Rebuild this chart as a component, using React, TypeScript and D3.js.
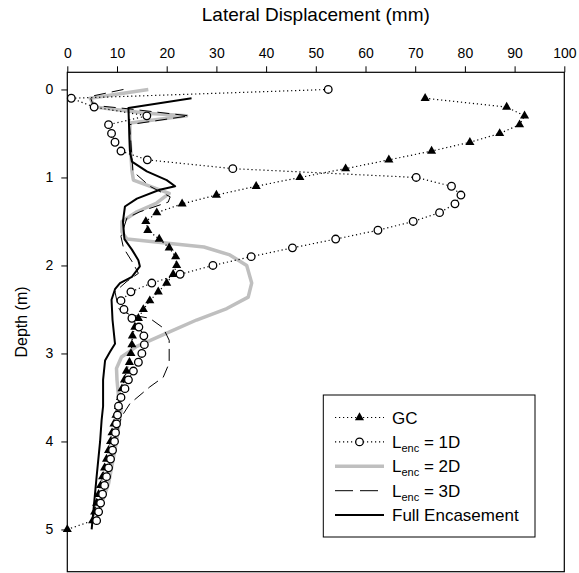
import React, { useEffect, useRef } from 'react';
import * as d3 from 'd3';

const WIDTH = 579;
const HEIGHT = 573;
const FONT = '"Liberation Sans", Arial, sans-serif';

// Axis ticks
const xTicks = [0, 10, 20, 30, 40, 50, 60, 70, 80, 90, 100];
const yTicks = [0, 1, 2, 3, 4, 5];

// Geocell column without encasement (GC)
const gcDepth = [0.1, 0.2, 0.3, 0.4, 0.5, 0.6, 0.7, 0.8, 0.9, 1.0, 1.1, 1.2, 1.3, 1.4, 1.5, 1.6, 1.7, 1.8, 1.9, 2.0,
  2.1, 2.2, 2.3, 2.4, 2.5, 2.6, 2.7, 2.8, 2.9, 3.0, 3.1, 3.2, 3.3, 3.4, 3.5, 3.6, 3.7, 3.8, 3.9, 4.0,
  4.1, 4.2, 4.3, 4.4, 4.5, 4.6, 4.7, 4.8, 4.9, 5.0];
const gcDisp = [72, 88.4, 92, 91, 87, 81, 73.3, 64.7, 56, 46.8, 38, 30, 23.1, 18, 15.8, 16.2, 18.5, 20.5, 21.8, 22,
  21.3, 20, 18.3, 16.6, 15.3, 14.3, 13.6, 13.1, 13.0, 12.8, 12.5, 11.9, 11.5, 11.0, 10.7, 10.3, 9.8, 9.4, 9.0, 8.7,
  8.3, 7.9, 7.5, 7.1, 6.7, 6.3, 5.9, 5.5, 5.1, 0];

// Encasement length 1D
const enc1Depth = [0.0, 0.1, 0.2, 0.3, 0.4, 0.5, 0.6, 0.7, 0.8, 0.9, 1.0, 1.1, 1.2, 1.3, 1.4, 1.5, 1.6, 1.7, 1.8, 1.9,
  2.0, 2.1, 2.2, 2.3, 2.4, 2.5, 2.6, 2.7, 2.8, 2.9, 3.0, 3.1, 3.2, 3.3, 3.4, 3.5, 3.6, 3.7, 3.8, 3.9,
  4.0, 4.1, 4.2, 4.3, 4.4, 4.5, 4.6, 4.7, 4.8, 4.9];
const enc1Disp = [52.5, 0.8, 5.4, 16.0, 8.3, 8.9, 9.6, 10.8, 16.1, 33.3, 70.2, 77.3, 79.2, 78.0, 74.9, 69.6, 62.5, 54.0, 45.3, 37.0,
  29.3, 22.7, 17.0, 12.8, 10.8, 11.4, 13.0, 14.4, 15.4, 15.5, 15.0, 14.3, 13.3, 12.3, 11.6, 10.8, 10.3, 10.1, 9.9, 9.7,
  9.5, 9.1, 8.7, 8.3, 7.9, 7.5, 7.1, 6.7, 6.3, 5.9];

// Encasement length 2D
const enc2Depth = [0.0, 0.1, 0.2, 0.27, 0.3, 0.38, 0.55, 0.92, 1.03, 1.18, 1.29, 1.39, 1.5, 1.62, 1.7, 1.79, 1.88, 2.0,
  2.2, 2.36, 2.49, 2.62, 2.77, 2.92, 3.04, 3.17, 3.3, 3.49, 3.65, 4.0, 4.48, 4.82, 4.9];
const enc2Disp = [16.3, 4.6, 5.5, 16, 24, 12.6, 12.6, 13, 13.3, 20.5, 18, 14, 11, 11, 12, 27.5, 32.7, 36.1,
  37.1, 36.4, 32.1, 26, 20, 14, 10.9, 9.9, 10, 10.3, 10.8, 9.9, 8.3, 6.2, 5.9];

// Encasement length 3D
const enc3Depth = [0.0, 0.08, 0.18, 0.22, 0.3, 0.4, 0.6, 0.93, 1.1, 1.22, 1.28, 1.39, 1.46, 1.67, 1.8, 1.98, 2.09, 2.18,
  2.3, 2.49, 2.56, 2.6, 2.71, 2.85, 3.11, 3.27, 3.38, 3.57, 3.72, 4.0, 4.5, 4.9];
const enc3Disp = [11.3, 4.6, 5.2, 12.3, 24.5, 12.5, 12.8, 13.2, 16.6, 20.7, 20.3, 14.6, 12, 10.8, 11.3, 13.3, 14.3, 12,
  9.6, 10.3, 12.6, 16.6, 19.3, 20.5, 20.5, 19.3, 16.6, 12.6, 10.9, 9.5, 7.6, 5.8];

// Full encasement
const fullDepth = [0.1, 0.21, 0.54, 0.7, 0.82, 0.93, 1.03, 1.1, 1.14, 1.24, 1.33, 1.5, 1.7, 1.82, 1.94, 2.01, 2.13, 2.2,
  2.27, 2.39, 2.62, 2.89, 2.98, 3.08, 3.3, 3.6, 3.76, 4.0, 4.4, 4.82, 5.0];
const fullDisp = [25, 12.3, 12.5, 12.6, 13, 16, 20, 21.7, 18.6, 14, 11.6, 11.2, 11.5, 13, 14.3, 14.6, 13, 10.6,
  9.6, 8.9, 9.1, 9.6, 8.6, 7.6, 7.2, 7.2, 6.9, 6.6, 5.9, 5.2, 4.9];

type Pt = [number, number];
const zip = (disp: number[], depth: number[]): Pt[] => disp.map((d, i) => [d, depth[i]]);

const x = d3.scaleLinear().domain([0, 100]).range([67.3, 564.3]);
const y = d3.scaleLinear().domain([-0.195, 5.48]).range([72.3, 571.7]);

const line = d3.line<Pt>().x((d) => x(d[0])).y((d) => y(d[1]));
const triangle = d3.symbol().type(d3.symbolTriangle).size(36)() as string;

const GREY = '#bfbfbf';

export default function App() {
  const xAxisRef = useRef<SVGGElement>(null);
  const yAxisRef = useRef<SVGGElement>(null);

  useEffect(() => {
    if (xAxisRef.current) {
      const g = d3.select(xAxisRef.current);
      g.call(d3.axisTop(x).tickValues(xTicks).tickSize(6).tickPadding(8).tickFormat(d3.format('d')) as any);
      g.select('.domain').remove();
      g.selectAll('text').attr('font-size', 14).attr('font-family', FONT).attr('fill', '#000');
      g.selectAll('line').attr('stroke', '#000');
    }
    if (yAxisRef.current) {
      const g = d3.select(yAxisRef.current);
      g.call(d3.axisLeft(y).tickValues(yTicks).tickSize(6).tickPadding(8).tickFormat(d3.format('d')) as any);
      g.select('.domain').remove();
      g.selectAll('text').attr('font-size', 14).attr('font-family', FONT).attr('fill', '#000');
      g.selectAll('line').attr('stroke', '#000');
    }
  }, []);

  const gc = zip(gcDisp, gcDepth);
  const e1 = zip(enc1Disp, enc1Depth);
  const e2 = zip(enc2Disp, enc2Depth);
  const e3 = zip(enc3Disp, enc3Depth);
  const full = zip(fullDisp, fullDepth);

  const [x0, x1] = x.range();
  const [y0, y1] = y.range();

  const legendX = 323.3;
  const legendY = 395;
  const legendW = 211.7;
  const legendH = 142;
  const rowY = (i: number) => 417.5 + i * 24.4;
  const sx0 = 335;
  const sx1 = 384;
  const tx = 392;
  const LFS = 17;

  const encLabel = (n: string, i: number) => (
    <text x={tx} y={rowY(i) + 6} fontSize={LFS} fontFamily={FONT}>
      L<tspan fontSize={11} dy={4}>enc</tspan><tspan dy={-4}>{` = ${n}`}</tspan>
    </text>
  );

  return (
    <svg width={WIDTH} height={HEIGHT} style={{ position: 'absolute', left: 0, top: 0, background: '#fff' }}>
      <rect x={0} y={0} width={WIDTH} height={HEIGHT} fill="#fff" />
      <text x={(x0 + x1) / 2} y={21} textAnchor="middle" fontSize={19} fontFamily={FONT}>
        Lateral Displacement (mm)
      </text>
      <text
        transform={`translate(27,${(y0 + y1) / 2}) rotate(-90)`}
        textAnchor="middle"
        fontSize={16}
        fontFamily={FONT}
      >
        Depth (m)
      </text>
      <g ref={xAxisRef} transform={`translate(0,${y0})`} />
      <g ref={yAxisRef} transform={`translate(${x0},0)`} />

      <g fill="none">
        <path d={line(e2) || ''} stroke={GREY} strokeWidth={3.5} strokeLinejoin="round" />
        <path d={line(e3) || ''} stroke="#000" strokeWidth={1} strokeDasharray="12,6" />
        <path d={line(full) || ''} stroke="#000" strokeWidth={2} strokeLinejoin="round" />
        <path d={line(gc) || ''} stroke="#000" strokeWidth={1.2} strokeDasharray="1.2,2.8" />
        <path d={line(e1) || ''} stroke="#000" strokeWidth={1.2} strokeDasharray="1.2,2.8" />
      </g>
      <g>
        {gc.map((d, i) => (
          <path key={i} d={triangle} transform={`translate(${x(d[0])},${y(d[1])})`} fill="#000" />
        ))}
      </g>
      <g>
        {e1.map((d, i) => (
          <circle key={i} cx={x(d[0])} cy={y(d[1])} r={3.8} fill="#fff" stroke="#000" strokeWidth={1.3} />
        ))}
      </g>

      <rect x={x0} y={y0} width={x1 - x0} height={y1 - y0} fill="none" stroke="#000" strokeWidth={1.2} />

      <g>
        <rect x={legendX} y={legendY} width={legendW} height={legendH} fill="#fff" stroke="#000" strokeWidth={1} />
        <line x1={sx0} x2={sx1} y1={rowY(0)} y2={rowY(0)} stroke="#000" strokeWidth={1.2} strokeDasharray="1.2,2.8" />
        <path d={triangle} transform={`translate(${(sx0 + sx1) / 2},${rowY(0)})`} fill="#000" />
        <text x={tx} y={rowY(0) + 6} fontSize={LFS} fontFamily={FONT}>GC</text>

        <line x1={sx0} x2={sx1} y1={rowY(1)} y2={rowY(1)} stroke="#000" strokeWidth={1.2} strokeDasharray="1.2,2.8" />
        <circle cx={(sx0 + sx1) / 2} cy={rowY(1)} r={3.8} fill="#fff" stroke="#000" strokeWidth={1.3} />
        {encLabel('1D', 1)}

        <line x1={sx0} x2={sx1} y1={rowY(2)} y2={rowY(2)} stroke={GREY} strokeWidth={3.5} />
        {encLabel('2D', 2)}

        <line x1={sx0} x2={sx1} y1={rowY(3)} y2={rowY(3)} stroke="#000" strokeWidth={1} strokeDasharray="18,7" />
        {encLabel('3D', 3)}

        <line x1={sx0} x2={sx1} y1={rowY(4)} y2={rowY(4)} stroke="#000" strokeWidth={2} />
        <text x={tx} y={rowY(4) + 6} fontSize={LFS} fontFamily={FONT}>Full Encasement</text>
      </g>
    </svg>
  );
}
